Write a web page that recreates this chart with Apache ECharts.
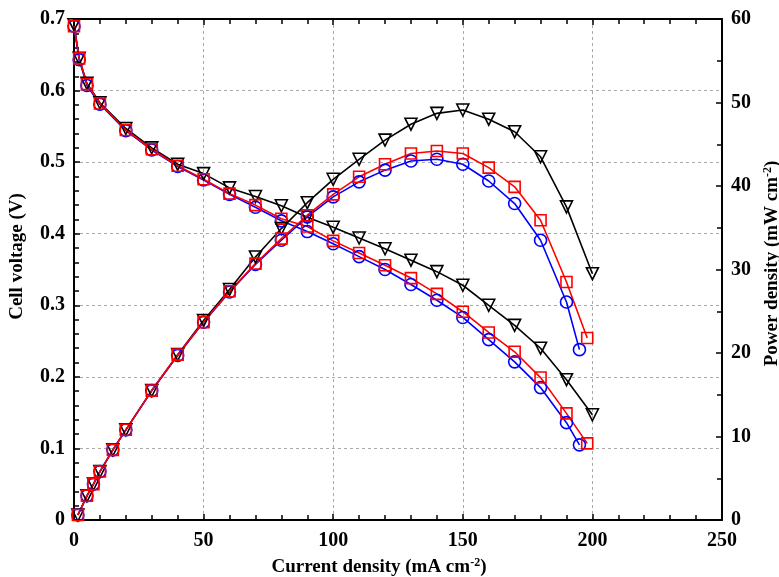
<!DOCTYPE html>
<html>
<head>
<meta charset="utf-8">
<script src="https://cdn.jsdelivr.net/npm/echarts@6/dist/echarts.min.js"></script>
<style>html,body{margin:0;padding:0;background:#fff}#c{width:779px;height:577px}</style>
</head>
<body>
<div id="c"></div>
<script>
// ---- data ----
const xTicks = [0, 50, 100, 150, 200, 250];
const voltTicks = [0, 0.1, 0.2, 0.3, 0.4, 0.5, 0.6, 0.7];
const powerTicks = [0, 10, 20, 30, 40, 50, 60];

const currentVoltBlack = [0, 2, 5, 10, 20, 30, 40, 50, 60, 70, 80, 90, 100, 110, 120, 130, 140, 150, 160, 170, 180, 190, 200];
const currentVoltRed   = [0, 2, 5, 10, 20, 30, 40, 50, 60, 70, 80, 90, 100, 110, 120, 130, 140, 150, 160, 170, 180, 190, 198];
const currentVoltBlue  = [0, 2, 5, 10, 20, 30, 40, 50, 60, 70, 80, 90, 100, 110, 120, 130, 140, 150, 160, 170, 180, 190, 195];

const voltBlack = [0.692, 0.645, 0.610, 0.583, 0.547, 0.520, 0.497, 0.484, 0.464, 0.452, 0.439, 0.423, 0.409, 0.394, 0.379, 0.363, 0.347, 0.328, 0.300, 0.272, 0.240, 0.196, 0.147];
const voltRed   = [0.690, 0.645, 0.609, 0.582, 0.545, 0.518, 0.495, 0.476, 0.456, 0.440, 0.421, 0.410, 0.390, 0.373, 0.356, 0.338, 0.316, 0.291, 0.262, 0.235, 0.199, 0.149, 0.107];
const voltBlue  = [0.690, 0.643, 0.607, 0.581, 0.544, 0.517, 0.494, 0.475, 0.455, 0.437, 0.418, 0.403, 0.386, 0.368, 0.350, 0.329, 0.307, 0.283, 0.252, 0.221, 0.185, 0.136, 0.105];

const currentPowBlack = [1.5, 5, 7.5, 10, 15, 20, 30, 40, 50, 60, 70, 80, 90, 100, 110, 120, 130, 140, 150, 160, 170, 180, 190, 200];
const currentPowRed   = [1.5, 5, 7.5, 10, 15, 20, 30, 40, 50, 60, 70, 80, 90, 100, 110, 120, 130, 140, 150, 160, 170, 180, 190, 198];
const currentPowBlue  = [1.5, 5, 7.5, 10, 15, 20, 30, 40, 50, 60, 70, 80, 90, 100, 110, 120, 130, 140, 150, 160, 170, 180, 190, 195];

const powBlack = [0.6, 2.9, 4.3, 5.8, 8.4, 10.8, 15.5, 19.8, 23.9, 27.6, 31.5, 34.9, 38.0, 40.8, 43.2, 45.5, 47.4, 48.7, 49.1, 48.0, 46.5, 43.5, 37.5, 29.5];
const powRed   = [0.6, 2.9, 4.3, 5.8, 8.4, 10.8, 15.5, 19.8, 23.7, 27.4, 30.7, 33.7, 36.5, 39.0, 41.1, 42.6, 43.9, 44.2, 43.9, 42.2, 39.9, 35.9, 28.5, 21.8];
const powBlue  = [0.6, 2.9, 4.3, 5.8, 8.4, 10.8, 15.5, 19.7, 23.7, 27.3, 30.6, 33.5, 36.3, 38.7, 40.5, 41.9, 43.0, 43.2, 42.6, 40.6, 37.9, 33.5, 26.1, 20.4];

// ---- chart ----
const FONT = '"Liberation Serif", "Times New Roman", serif';
const zip = (xs, ys) => xs.map((x, i) => [x, ys[i]]);

function mkSeries(name, xs, ys, yIdx, color, symbol, size, rotate) {
  return {
    name, type: 'line', xAxisIndex: 0, yAxisIndex: yIdx,
    data: zip(xs, ys),
    symbol, symbolSize: size, symbolRotate: rotate || 0,
    showAllSymbol: true,
    lineStyle: { color, width: 1.6 },
    itemStyle: { color: 'rgba(255,255,255,0)', borderColor: color, borderWidth: 1.6 },
    emphasis: { disabled: true },
    animation: false
  };
}

const labelStyle = { fontFamily: FONT, fontWeight: 'bold', fontSize: 20, color: '#000' };
const supRich = { sup: { fontFamily: FONT, fontWeight: 'bold', fontSize: 12, color: '#000', padding: [0, 0, 9, 0] } };
const nameStyle = (padding) => ({
  fontFamily: FONT, fontWeight: 'bold', fontSize: 19, color: '#000', padding, rich: supRich
});
const axisLine = { show: true, onZero: false, lineStyle: { color: '#000', width: 2 } };

const chart = echarts.init(document.getElementById('c'), null, { renderer: 'canvas' });
chart.setOption({
  backgroundColor: '#fff',
  animation: false,
  grid: { left: 74, right: 57, top: 19, bottom: 57, containLabel: false, outerBoundsMode: 'none' },
  xAxis: [
    {
      type: 'value', position: 'bottom', min: xTicks[0], max: xTicks[xTicks.length - 1], interval: 50,
      name: 'Current density (mA cm{sup|-2})', nameLocation: 'middle', nameGap: 37,
      nameTextStyle: nameStyle([0, 38, 0, 0]),
      axisLine, axisTick: { inside: true, length: 6, lineStyle: { color: '#000', width: 1.5 } },
      minorTick: { show: true, splitNumber: 5, length: 5, lineStyle: { color: '#000', width: 1.5 } },
      axisLabel: Object.assign({ margin: 11 }, labelStyle),
      splitLine: { show: true, lineStyle: { color: '#aaa', type: [3, 3], width: 1 } }
    },
    {
      type: 'value', position: 'top', min: 0, max: 250, interval: 50,
      axisLine, axisTick: { inside: true, length: 6, lineStyle: { color: '#000', width: 1.5 } },
      minorTick: { show: true, splitNumber: 5, length: 5, lineStyle: { color: '#000', width: 1.5 } },
      axisLabel: { show: false }, splitLine: { show: false }
    }
  ],
  yAxis: [
    {
      type: 'value', position: 'left', min: 0, max: 0.7, interval: 0.1,
      name: 'Cell voltage (V)', nameLocation: 'middle', nameGap: 47, nameRotate: 90,
      nameTextStyle: nameStyle([0, 0, 0, 26]),
      axisLine, axisTick: { inside: true, length: 6, lineStyle: { color: '#000', width: 1.5 } },
      minorTick: { show: true, splitNumber: 5, length: 5, lineStyle: { color: '#000', width: 1.5 } },
      axisLabel: Object.assign({ margin: 9, formatter: v => (v === 0 ? '0' : v.toFixed(1)) }, labelStyle),
      splitLine: { show: true, lineStyle: { color: '#aaa', type: [3, 3], width: 1 } }
    },
    {
      type: 'value', position: 'right', min: 0, max: 60, interval: 10,
      name: 'Power density (mW cm{sup|-2})', nameLocation: 'middle', nameGap: 35, nameRotate: 90,
      nameTextStyle: nameStyle([0, 0, 0, 12]),
      axisLine, axisTick: { inside: true, length: 6, lineStyle: { color: '#000', width: 1.5 } },
      minorTick: { show: true, splitNumber: 2, length: 5, lineStyle: { color: '#000', width: 1.5 } },
      axisLabel: Object.assign({ margin: 9 }, labelStyle),
      splitLine: { show: false }
    }
  ],
  series: [
    mkSeries('black V', currentVoltBlack, voltBlack, 0, '#000000', 'triangle', 12, 180),
    mkSeries('blue V', currentVoltBlue, voltBlue, 0, '#0000ff', 'circle', 12),
    mkSeries('red V', currentVoltRed, voltRed, 0, '#ff0000', 'rect', 11),
    mkSeries('black P', currentPowBlack, powBlack, 1, '#000000', 'triangle', 12, 180),
    mkSeries('blue P', currentPowBlue, powBlue, 1, '#0000ff', 'circle', 12),
    mkSeries('red P', currentPowRed, powRed, 1, '#ff0000', 'rect', 11)
  ]
});
</script>
</body>
</html>
